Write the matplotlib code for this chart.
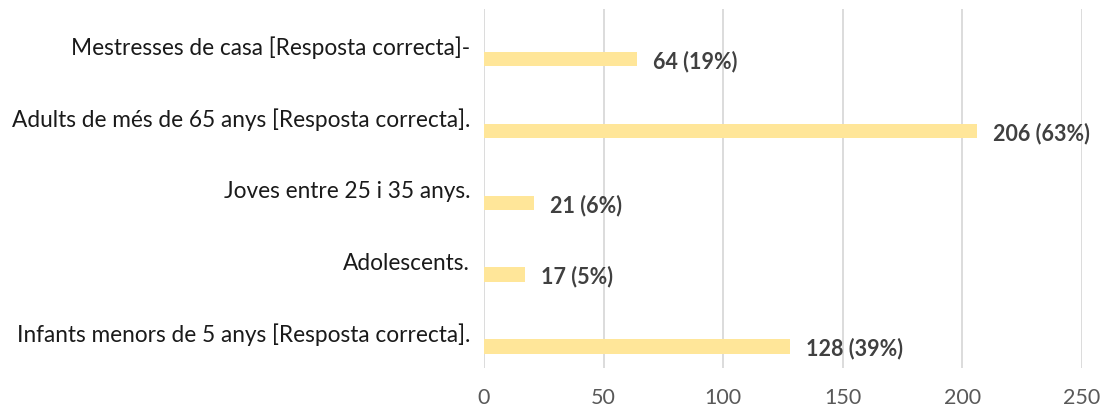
import matplotlib
matplotlib.use("Agg")
import matplotlib.pyplot as plt

# Respostes per grup d'edat (de dalt a baix)
categories = [
    "Mestresses de casa [Resposta correcta]-",
    "Adults de més de 65 anys [Resposta correcta].",
    "Joves entre 25 i 35 anys.",
    "Adolescents.",
    "Infants menors de 5 anys [Resposta correcta].",
]
counts = [64, 206, 21, 17, 128]
percents = [19, 63, 6, 5, 39]
xticks = [0, 50, 100, 150, 200, 250]

plt.rcParams["font.family"] = ["Lato", "DejaVu Sans"]

fig = plt.figure(figsize=(11.05, 4.1), dpi=100)
ax = fig.add_axes([0.438, 0.10, 0.541, 0.876])

n = len(categories)
pos = list(range(n))
bar_off = 0.2  # barres desplaçades cap avall dins de cada franja

ax.barh([p + bar_off for p in pos], counts, height=0.2, color="#FFE699", zorder=2)

for p, c, pc in zip(pos, counts, percents):
    ax.annotate(f"{c} ({pc}%)", (c, p + bar_off), xytext=(11.5, -1),
                textcoords="offset points", va="center", ha="left",
                fontsize=15.5, fontweight="bold", color="#404040", zorder=3)

ax.set_ylim(n - 0.5, -0.5)
ax.set_yticks(pos)
ax.set_yticklabels(categories, fontsize=16.3, color="#1a1a1a")
ax.set_xlim(0, 250)
ax.set_xticks(xticks)
ax.set_xticklabels([str(t) for t in xticks], fontsize=15.5, color="#595959")
ax.tick_params(axis="both", length=0)
ax.tick_params(axis="x", pad=14)
ax.tick_params(axis="y", pad=10)
ax.xaxis.grid(True, color="#D9D9D9", linewidth=1.3, zorder=0)
for s in ax.spines.values():
    s.set_visible(False)

fig.savefig("out.png", dpi=100, facecolor="white")
